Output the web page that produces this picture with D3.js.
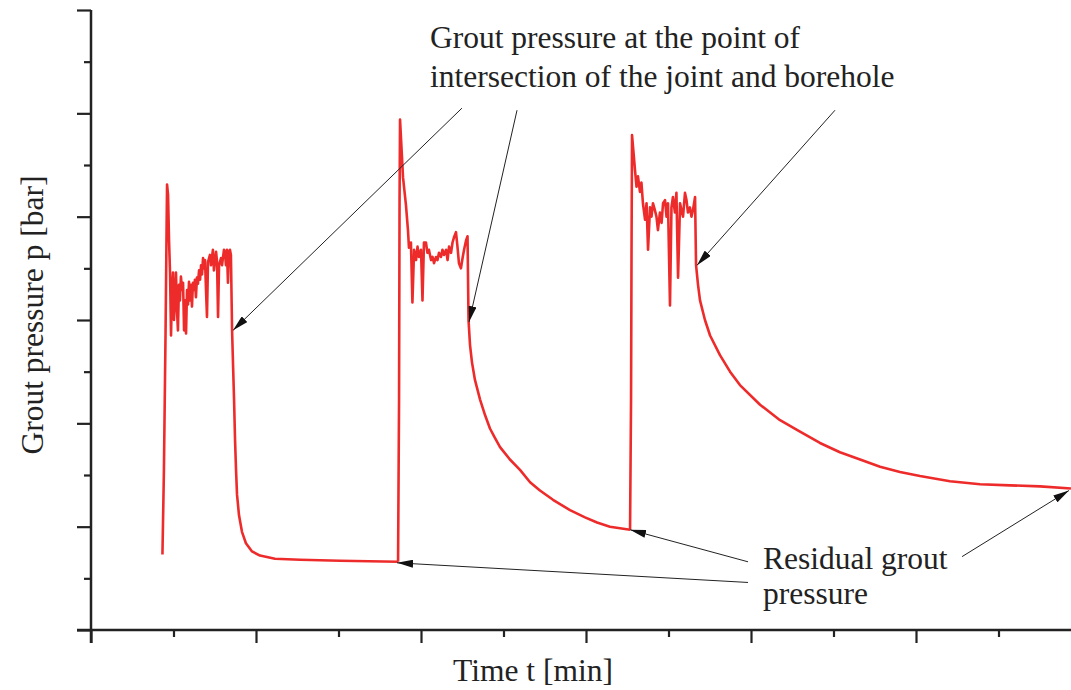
<!DOCTYPE html>
<html>
<head>
<meta charset="utf-8">
<script src="https://cdn.jsdelivr.net/npm/d3@7"></script>
<style>
  body { margin: 0; background: #fff; }
  svg text { font-family: "Liberation Serif", "DejaVu Serif", serif; fill: #222; }
</style>
</head>
<body>
<svg id="chart" width="1071" height="690"></svg>
<script>
// injection cycle 1 (time in min, pressure in bar)
const t1 = [4.33, 4.42, 4.52, 4.58, 4.61, 4.67, 4.73, 4.79, 4.85, 4.91, 4.97, 5.03, 5.09, 5.15, 5.21, 5.27,
  5.33, 5.39, 5.45, 5.52, 5.58, 5.64, 5.70, 5.76, 5.82, 5.88, 5.94, 6.00, 6.06, 6.12, 6.18, 6.24, 6.30,
  6.36, 6.42, 6.48, 6.55, 6.61, 6.67, 6.73, 6.79, 6.85, 6.91, 6.97, 7.03, 7.09, 7.21, 7.27, 7.39, 7.45,
  7.58, 7.64, 7.70, 7.76, 7.88, 7.94, 8.06, 8.12, 8.18, 8.24, 8.30, 8.36, 8.42, 8.48, 8.55, 8.61, 8.67,
  8.73, 8.79, 8.85, 8.97, 9.15, 9.39, 9.76, 10.24, 11.15, 12.67, 15.09, 18.61];
const p1 = [7.3, 15.5, 29.0, 38.7, 43.1, 42.1, 37.7, 34.6, 28.5, 32.9, 34.6, 30.0, 31.9, 34.6, 31.0, 29.0,
  33.4, 31.9, 34.2, 32.9, 33.6, 29.0, 31.9, 28.7, 32.9, 31.5, 33.7, 31.9, 33.4, 31.3, 33.6, 32.9, 33.9,
  32.2, 34.1, 33.5, 34.8, 33.9, 35.3, 34.4, 36.0, 35.0, 35.8, 32.9, 30.3, 35.6, 36.3, 35.3, 36.8, 34.8,
  36.6, 35.6, 30.3, 35.3, 36.0, 35.3, 36.8, 36.5, 35.3, 36.8, 33.6, 36.6, 36.8, 36.3, 29.0, 25.6, 22.3,
  18.4, 15.5, 13.1, 11.1, 9.5, 8.4, 7.6, 7.2, 6.9, 6.8, 6.7, 6.6];

// injection cycle 2
const t2 = [18.61, 18.67, 18.70, 18.73, 18.91, 19.09, 19.21, 19.27, 19.39, 19.48, 19.58, 19.70, 19.79,
  19.88, 20.00, 20.09, 20.18, 20.30, 20.39, 20.48, 20.61, 20.70, 20.79, 20.91, 21.00, 21.09, 21.21,
  21.30, 21.39, 21.52, 21.61, 21.70, 21.82, 21.91, 22.00, 22.12, 22.21, 22.30, 22.42, 22.52, 22.61,
  22.73, 22.82, 22.88, 22.97, 23.09, 23.27, 23.58, 23.88, 24.18, 24.48, 24.79, 25.39, 26.00, 26.61,
  27.21, 28.00, 29.03, 29.94, 30.67, 31.45, 32.67];
const p2 = [6.6, 22.3, 41.6, 49.4, 43.8, 41.1, 38.7, 37.0, 37.5, 31.7, 36.8, 35.8, 37.1,
  36.1, 36.8, 31.9, 37.5, 37.5, 36.5, 36.8, 35.8, 36.1, 35.5, 36.1, 35.8, 36.5, 36.1,
  36.8, 36.3, 36.8, 35.8, 37.1, 36.5, 37.5, 38.0, 38.5, 37.1, 35.5, 35.0, 36.0, 36.8,
  37.7, 38.1, 30.0, 27.6, 25.9, 24.2, 22.3, 20.8, 19.5, 18.6, 17.7, 16.5, 15.5, 14.3,
  13.5, 12.6, 11.6, 10.9, 10.4, 10.0, 9.7];

// injection cycle 3
const t3 = [32.67, 32.73, 32.76, 32.79, 32.97, 33.06, 33.15, 33.27, 33.36, 33.45, 33.58, 33.67, 33.76,
  33.88, 33.97, 34.06, 34.18, 34.27, 34.36, 34.48, 34.58, 34.67, 34.79, 34.88, 34.97, 35.09, 35.18,
  35.27, 35.39, 35.48, 35.58, 35.70, 35.79, 35.88, 36.00, 36.09, 36.18, 36.30, 36.39, 36.48, 36.61,
  36.67, 36.79, 36.91, 37.21, 37.52, 38.12, 38.73, 39.33, 40.55, 41.76, 42.97, 44.18, 45.39, 46.61,
  47.82, 49.03, 50.24, 52.06, 53.88, 55.70, 57.52, 59.39];
const p3 = [9.7, 22.3, 36.8, 47.9, 44.5, 42.9, 43.9, 42.4, 43.3, 41.3, 39.7, 41.3, 36.8,
  40.9, 40.0, 41.3, 40.6, 40.0, 38.7, 40.4, 39.4, 41.3, 41.6, 40.0, 41.3, 31.4, 40.9,
  41.9, 40.4, 42.3, 34.1, 41.3, 40.6, 40.0, 42.3, 41.6, 40.4, 40.9, 40.0, 40.6, 41.9,
  35.3, 33.4, 31.9, 30.0, 28.5, 26.6, 25.0, 23.7, 21.8, 20.3, 19.2, 18.1, 17.2, 16.5,
  15.8, 15.3, 14.9, 14.4, 14.1, 14.0, 13.9, 13.7];

const majorX = [0, 10, 20, 30, 40, 50, 60];
const minorX = [5, 15, 25, 35, 45, 55];
const majorY = [0, 10, 20, 30, 40, 50, 60];
const minorY = [5, 15, 25, 35, 45, 55];

// annotation arrows: [tail t, tail p, tip t, tip p]
const topArrows = [
  [22.48, 50.5, 8.61, 29.0],
  [25.82, 50.3, 22.91, 29.8],
  [45.09, 50.3, 36.73, 35.3]
];
const bottomArrows = [
  [39.82, 6.6, 32.67, 9.7],
  [39.82, 4.6, 18.55, 6.5],
  [52.79, 7.1, 59.27, 13.5]
];

const svg = d3.select("#chart");
const x = d3.scaleLinear().domain([0, 60]).range([91, 1081]);
const y = d3.scaleLinear().domain([0, 60]).range([630, 10]);

const axisColor = "#222";
const fontSize = 31.5;

// x axis
const gx = svg.append("g").attr("transform", "translate(0,630)");
gx.call(d3.axisBottom(x).tickValues(majorX).tickSize(13).tickFormat(""));
gx.append("g").call(d3.axisBottom(x).tickValues(minorX).tickSize(7).tickFormat(""))
  .select(".domain").remove();

// y axis
const gy = svg.append("g").attr("transform", "translate(91,0)");
gy.call(d3.axisLeft(y).tickValues(majorY).tickSize(14).tickFormat(""));
gy.append("g").call(d3.axisLeft(y).tickValues(minorY).tickSize(7).tickFormat(""))
  .select(".domain").remove();

svg.selectAll(".domain").attr("stroke", axisColor).attr("stroke-width", 2.5);
svg.selectAll(".tick line").attr("stroke", axisColor).attr("stroke-width", 2.2);

// x axis extends a little left of y axis, y axis a little below
svg.selectAll(".domain").attr("d", function() {
  return this.parentNode === gx.node()
    ? "M77,0H" + x.range()[1]
    : "M0," + y.range()[1] + "V" + (y(0) + 13);
});

// pressure curves
const line = d3.line().x(d => x(d[0])).y(d => y(d[1]));
[[t1, p1], [t2, p2], [t3, p3]].forEach(([ts, ps]) => {
  svg.append("path")
    .datum(ts.map((t, i) => [t, ps[i]]))
    .attr("d", line)
    .attr("fill", "none")
    .attr("stroke", "#ee2b2b")
    .attr("stroke-width", 2.6)
    .attr("stroke-linejoin", "round");
});

// arrows
const defs = svg.append("defs");
defs.append("marker")
  .attr("id", "arrow")
  .attr("viewBox", "0 0 16 8")
  .attr("refX", 16)
  .attr("refY", 4)
  .attr("markerWidth", 16)
  .attr("markerHeight", 8)
  .attr("markerUnits", "userSpaceOnUse")
  .attr("orient", "auto")
  .append("path")
  .attr("d", "M0,0 L16,4 L0,8 z")
  .attr("fill", "#111");

topArrows.concat(bottomArrows).forEach(a => {
  svg.append("line")
    .attr("x1", x(a[0])).attr("y1", y(a[1]))
    .attr("x2", x(a[2])).attr("y2", y(a[3]))
    .attr("stroke", "#222")
    .attr("stroke-width", 1)
    .attr("marker-end", "url(#arrow)");
});

// annotation text
svg.append("text").attr("x", 430).attr("y", 48).attr("font-size", fontSize)
  .text("Grout pressure at the point of");
svg.append("text").attr("x", 430).attr("y", 87).attr("font-size", fontSize)
  .text("intersection of the joint and borehole");
svg.append("text").attr("x", 763).attr("y", 569).attr("font-size", fontSize)
  .text("Residual grout");
svg.append("text").attr("x", 763).attr("y", 604).attr("font-size", fontSize)
  .text("pressure");

// axis titles
svg.append("text").attr("x", 533).attr("y", 681).attr("font-size", fontSize)
  .attr("text-anchor", "middle").text("Time t [min]");
svg.append("text")
  .attr("transform", "translate(43,315) rotate(-90)")
  .attr("font-size", fontSize).attr("text-anchor", "middle")
  .text("Grout pressure p [bar]");
</script>
</body>
</html>
